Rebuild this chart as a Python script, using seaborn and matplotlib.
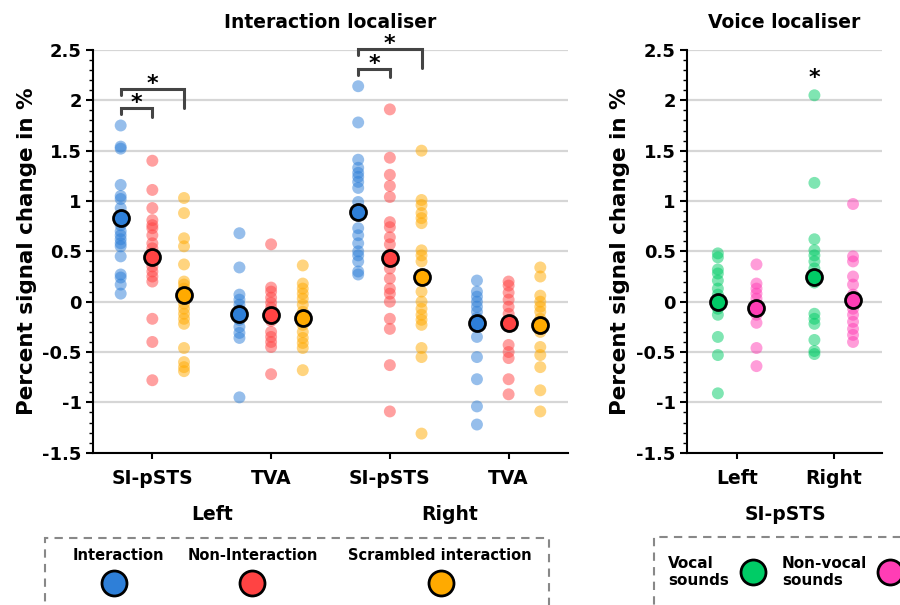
import numpy as np
import pandas as pd
import matplotlib
matplotlib.use("Agg")
import matplotlib.pyplot as plt
import seaborn as sns
from matplotlib.lines import Line2D
from matplotlib.patches import Rectangle
from matplotlib.ticker import MultipleLocator
import matplotlib.transforms as mtransforms

# ---------------- data ----------------
regions = ["Left SI-pSTS", "Left TVA", "Right SI-pSTS", "Right TVA"]
region_ticklabels = ["SI-pSTS", "TVA", "SI-pSTS", "TVA"]
hemi_labels = ["Left", "Right"]
conditions = ["Interaction", "Non-Interaction", "Scrambled interaction"]

left_si_int = [1.75, 1.54, 1.52, 1.16, 1.05, 1.02, 0.93, 0.85, 0.76, 0.70, 0.66, 0.62, 0.58, 0.55, 0.45, 0.27, 0.24, 0.17, 0.08]
left_si_non = [1.40, 1.11, 0.93, 0.81, 0.76, 0.73, 0.66, 0.58, 0.53, 0.48, 0.40, 0.35, 0.30, 0.25, 0.20, -0.17, -0.40, -0.78]
left_si_scr = [1.03, 0.88, 0.63, 0.55, 0.37, 0.20, 0.17, 0.13, 0.10, 0.03, -0.02, -0.07, -0.12, -0.17, -0.22, -0.46, -0.60, -0.65, -0.69]
left_tva_int = [0.68, 0.34, 0.07, 0.02, -0.03, -0.08, -0.15, -0.18, -0.25, -0.31, -0.36, -0.95]
left_tva_non = [0.57, 0.14, 0.10, 0.04, -0.01, -0.06, -0.14, -0.19, -0.30, -0.35, -0.40, -0.45, -0.72]
left_tva_scr = [0.36, 0.18, 0.13, 0.08, 0.03, -0.03, -0.10, -0.16, -0.23, -0.30, -0.36, -0.41, -0.46, -0.68]
right_si_int = [2.14, 1.78, 1.41, 1.33, 1.28, 1.24, 1.19, 1.13, 0.99, 0.73, 0.66, 0.58, 0.50, 0.46, 0.40, 0.30, 0.27]
right_si_non = [1.91, 1.43, 1.26, 1.15, 1.04, 0.79, 0.74, 0.64, 0.57, 0.47, 0.33, 0.23, 0.13, 0.08, 0.00, -0.17, -0.27, -0.63, -1.09]
right_si_scr = [1.50, 1.01, 0.96, 0.88, 0.83, 0.78, 0.51, 0.46, 0.40, 0.10, 0.00, -0.07, -0.13, -0.18, -0.23, -0.46, -0.55, -1.31]
right_tva_int = [0.21, 0.10, 0.05, 0.00, -0.05, -0.10, -0.16, -0.35, -0.55, -0.77, -1.04, -1.22]
right_tva_non = [0.20, 0.16, 0.09, 0.02, -0.05, -0.12, -0.24, -0.43, -0.50, -0.56, -0.77, -0.92]
right_tva_scr = [0.34, 0.25, 0.06, 0.00, -0.05, -0.10, -0.17, -0.30, -0.45, -0.53, -0.65, -0.88, -1.09]

# group means, per region: [Interaction, Non-Interaction, Scrambled]
mean_left_si = [0.83, 0.44, 0.07]
mean_left_tva = [-0.12, -0.13, -0.16]
mean_right_si = [0.89, 0.43, 0.25]
mean_right_tva = [-0.21, -0.21, -0.23]

voice_conditions = ["Vocal sounds", "Non-vocal sounds"]
left_vocal = [0.48, 0.44, 0.32, 0.28, 0.21, 0.13, 0.07, -0.01, -0.07, -0.13, -0.35, -0.53, -0.91]
left_nonvocal = [0.37, 0.18, 0.13, 0.08, 0.03, -0.03, -0.13, -0.21, -0.46, -0.64]
right_vocal = [2.05, 1.18, 0.62, 0.51, 0.46, 0.40, 0.33, 0.19, -0.12, -0.17, -0.22, -0.38, -0.49, -0.52]
right_nonvocal = [0.97, 0.45, 0.40, 0.25, 0.17, 0.07, 0.00, -0.07, -0.13, -0.20, -0.27, -0.33, -0.40]
mean_left_voice = [0.00, -0.06]
mean_right_voice = [0.25, 0.02]

yticks = [-1.5, -1.0, -0.5, 0.0, 0.5, 1.0, 1.5, 2.0, 2.5]

# ---------------- tables ----------------
int_series = {
    ("Left SI-pSTS", "Interaction"): left_si_int,
    ("Left SI-pSTS", "Non-Interaction"): left_si_non,
    ("Left SI-pSTS", "Scrambled interaction"): left_si_scr,
    ("Left TVA", "Interaction"): left_tva_int,
    ("Left TVA", "Non-Interaction"): left_tva_non,
    ("Left TVA", "Scrambled interaction"): left_tva_scr,
    ("Right SI-pSTS", "Interaction"): right_si_int,
    ("Right SI-pSTS", "Non-Interaction"): right_si_non,
    ("Right SI-pSTS", "Scrambled interaction"): right_si_scr,
    ("Right TVA", "Interaction"): right_tva_int,
    ("Right TVA", "Non-Interaction"): right_tva_non,
    ("Right TVA", "Scrambled interaction"): right_tva_scr,
}
df_int = pd.DataFrame([(r, c, v) for (r, c), vals in int_series.items() for v in vals],
                      columns=["region", "condition", "value"])
int_means = {"Left SI-pSTS": mean_left_si, "Left TVA": mean_left_tva,
             "Right SI-pSTS": mean_right_si, "Right TVA": mean_right_tva}
df_int_m = pd.DataFrame([(r, c, m) for r, ms in int_means.items() for c, m in zip(conditions, ms)],
                        columns=["region", "condition", "value"])

voice_series = {
    ("Left", "Vocal sounds"): left_vocal,
    ("Left", "Non-vocal sounds"): left_nonvocal,
    ("Right", "Vocal sounds"): right_vocal,
    ("Right", "Non-vocal sounds"): right_nonvocal,
}
df_voice = pd.DataFrame([(h, c, v) for (h, c), vals in voice_series.items() for v in vals],
                        columns=["hemi", "condition", "value"])
voice_means = {"Left": mean_left_voice, "Right": mean_right_voice}
df_voice_m = pd.DataFrame([(h, c, m) for h, ms in voice_means.items() for c, m in zip(voice_conditions, ms)],
                          columns=["hemi", "condition", "value"])

# ---------------- style ----------------
sns.set_theme(style="ticks")
plt.rcParams["font.family"] = ["DejaVu Sans"]
plt.rcParams["font.weight"] = "bold"
plt.rcParams["axes.labelweight"] = "bold"
plt.rcParams["text.color"] = "black"
plt.rcParams["axes.labelcolor"] = "black"
plt.rcParams["xtick.color"] = "black"
plt.rcParams["ytick.color"] = "black"

int_colors = {"Interaction": "#2E7FD8", "Non-Interaction": "#FF4343", "Scrambled interaction": "#FFAA00"}
voice_colors = {"Vocal sounds": "#00CC66", "Non-vocal sounds": "#FF3DB5"}

fig = plt.figure(figsize=(9, 6.05), dpi=100)
ax1 = fig.add_axes([0.1033, 0.2517, 0.5278, 0.6657])
ax2 = fig.add_axes([0.7633, 0.2517, 0.2167, 0.6657])

PT_SIZE = 8.6
MEAN_SIZE = 11.5


def draw_panel(ax, df, dfm, x, order, hue_order, palette):
    sns.stripplot(data=df, x=x, y="value", hue="condition", order=order, hue_order=hue_order,
                  palette=palette, dodge=True, jitter=False, size=PT_SIZE, alpha=0.5,
                  linewidth=0, legend=False, ax=ax, zorder=3)
    sns.stripplot(data=dfm, x=x, y="value", hue="condition", order=order, hue_order=hue_order,
                  palette=palette, dodge=True, jitter=False, size=MEAN_SIZE, alpha=1,
                  linewidth=2, edgecolor="black", legend=False, ax=ax, zorder=5)
    ax.set_ylim(-1.5, 2.5)
    ax.set_yticks(yticks)
    ax.set_yticklabels([f"{v:g}" for v in yticks], fontsize=13, fontweight="bold", color="black")
    ax.yaxis.set_minor_locator(MultipleLocator(0.1))
    ax.set_axisbelow(True)
    ax.yaxis.grid(True, which="major", color="#d6d6d6", linewidth=1.6)
    ax.xaxis.grid(False)
    for s in ["top", "right"]:
        ax.spines[s].set_visible(False)
    for s in ["left", "bottom"]:
        ax.spines[s].set_color("black")
        ax.spines[s].set_linewidth(1.5)
    ax.tick_params(axis="y", which="major", length=5, width=1.5, direction="out", pad=3, colors="black")
    ax.tick_params(axis="y", which="minor", length=3, width=1, direction="out", colors="black")
    ax.tick_params(axis="x", which="major", length=4, width=1.5, direction="out", pad=8, colors="black")
    ax.set_xlabel("")
    ax.set_ylabel("Percent signal change in %", fontsize=15.5, fontweight="bold", color="black")


draw_panel(ax1, df_int, df_int_m, "region", regions, conditions, int_colors)
draw_panel(ax2, df_voice, df_voice_m, "hemi", hemi_labels, voice_conditions, voice_colors)

ax1.set_xlim(-0.5, 3.5)
ax2.set_xlim(-0.52, 1.5)
ax1.set_xticks(range(len(regions)))
ax1.set_xticklabels(region_ticklabels, fontsize=13.5, fontweight="bold", color="black")
ax2.set_xticks(range(len(hemi_labels)))
ax2.set_xticklabels(hemi_labels, fontsize=13.5, fontweight="bold", color="black")
ax1.yaxis.set_label_coords(-0.118, 0.5)
ax2.yaxis.set_label_coords(-0.29, 0.5)

ax1.set_title("Interaction localiser", fontsize=13.5, fontweight="bold", pad=16, color="black")
ax2.set_title("Voice localiser", fontsize=13.5, fontweight="bold", pad=16, color="black")

# group labels under tick labels
tr1 = mtransforms.blended_transform_factory(ax1.transData, fig.transFigure)
tr2 = mtransforms.blended_transform_factory(ax2.transData, fig.transFigure)
ax1.text(0.5, 90 / 605, "Left", transform=tr1, ha="center", va="center", fontsize=13.5, fontweight="bold")
ax1.text(2.5, 90 / 605, "Right", transform=tr1, ha="center", va="center", fontsize=13.5, fontweight="bold")
ax2.text(0.5, 90 / 605, "SI-pSTS", transform=tr2, ha="center", va="center", fontsize=13.5, fontweight="bold")


# ---------------- significance brackets ----------------
def dodge_offsets(n):
    w = 0.8 / n
    return (np.arange(n) - (n - 1) / 2) * w


off3 = dodge_offsets(3)
off2 = dodge_offsets(2)
# (category index, hue i, hue j, bar y, left drop y, right drop y)
brackets = [
    (0, 0, 1, 1.92, 1.86, 1.83),
    (0, 0, 2, 2.11, 2.05, 1.92),
    (2, 0, 1, 2.31, 2.25, 2.23),
    (2, 0, 2, 2.51, 2.45, 2.32),
]
for ci, hi, hj, yb, yl, yr in brackets:
    xl = ci + off3[hi]
    xr = ci + off3[hj]
    ax1.plot([xl, xl, xr, xr], [yl, yb, yb, yr], color="#444444", lw=2.2, clip_on=False,
             solid_joinstyle="miter", zorder=6)
    ax1.text((xl + xr) / 2, yb - 0.01, "*", ha="center", va="baseline", fontsize=16,
             fontweight="bold", color="black", clip_on=False)
ax2.text(1 + off2[0], 2.16, "*", ha="center", va="baseline", fontsize=16, fontweight="bold", color="black")

# ---------------- custom legends ----------------
dash = (0, (4, 3))
fig.add_artist(Rectangle((45 / 900, -0.05), (549 - 45) / 900, 0.05 + (605 - 538) / 605,
                         transform=fig.transFigure, fill=False, edgecolor="#888888",
                         linewidth=1.5, linestyle=dash))
fig.add_artist(Rectangle((654 / 900, -0.05), 0.4, 0.05 + (605 - 537) / 605,
                         transform=fig.transFigure, fill=False, edgecolor="#888888",
                         linewidth=1.5, linestyle=dash))
leg_x_text = [118, 253, 440]
leg_x_circ = [114, 252, 441]
for cond, xt, xc in zip(conditions, leg_x_text, leg_x_circ):
    fig.text(xt / 900, (605 - 555) / 605, cond, ha="center", va="center", fontsize=10.5, fontweight="bold")
    fig.add_artist(Line2D([xc / 900], [(605 - 583) / 605], marker="o", markersize=18,
                          markerfacecolor=int_colors[cond], markeredgecolor="black",
                          markeredgewidth=2, linestyle="none", transform=fig.transFigure))
voice_text_x = [668, 782]
voice_circ_x = [753, 890]
voice_text = ["Vocal\nsounds", "Non-vocal\nsounds"]
for cond, lab, xt, xc in zip(voice_conditions, voice_text, voice_text_x, voice_circ_x):
    fig.text(xt / 900, (605 - 572) / 605, lab, ha="left", va="center", fontsize=11,
             fontweight="bold", linespacing=1.15)
    fig.add_artist(Line2D([xc / 900], [(605 - 572) / 605], marker="o", markersize=18,
                          markerfacecolor=voice_colors[cond], markeredgecolor="black",
                          markeredgewidth=2, linestyle="none", transform=fig.transFigure))

fig.savefig("out.png", dpi=100)
